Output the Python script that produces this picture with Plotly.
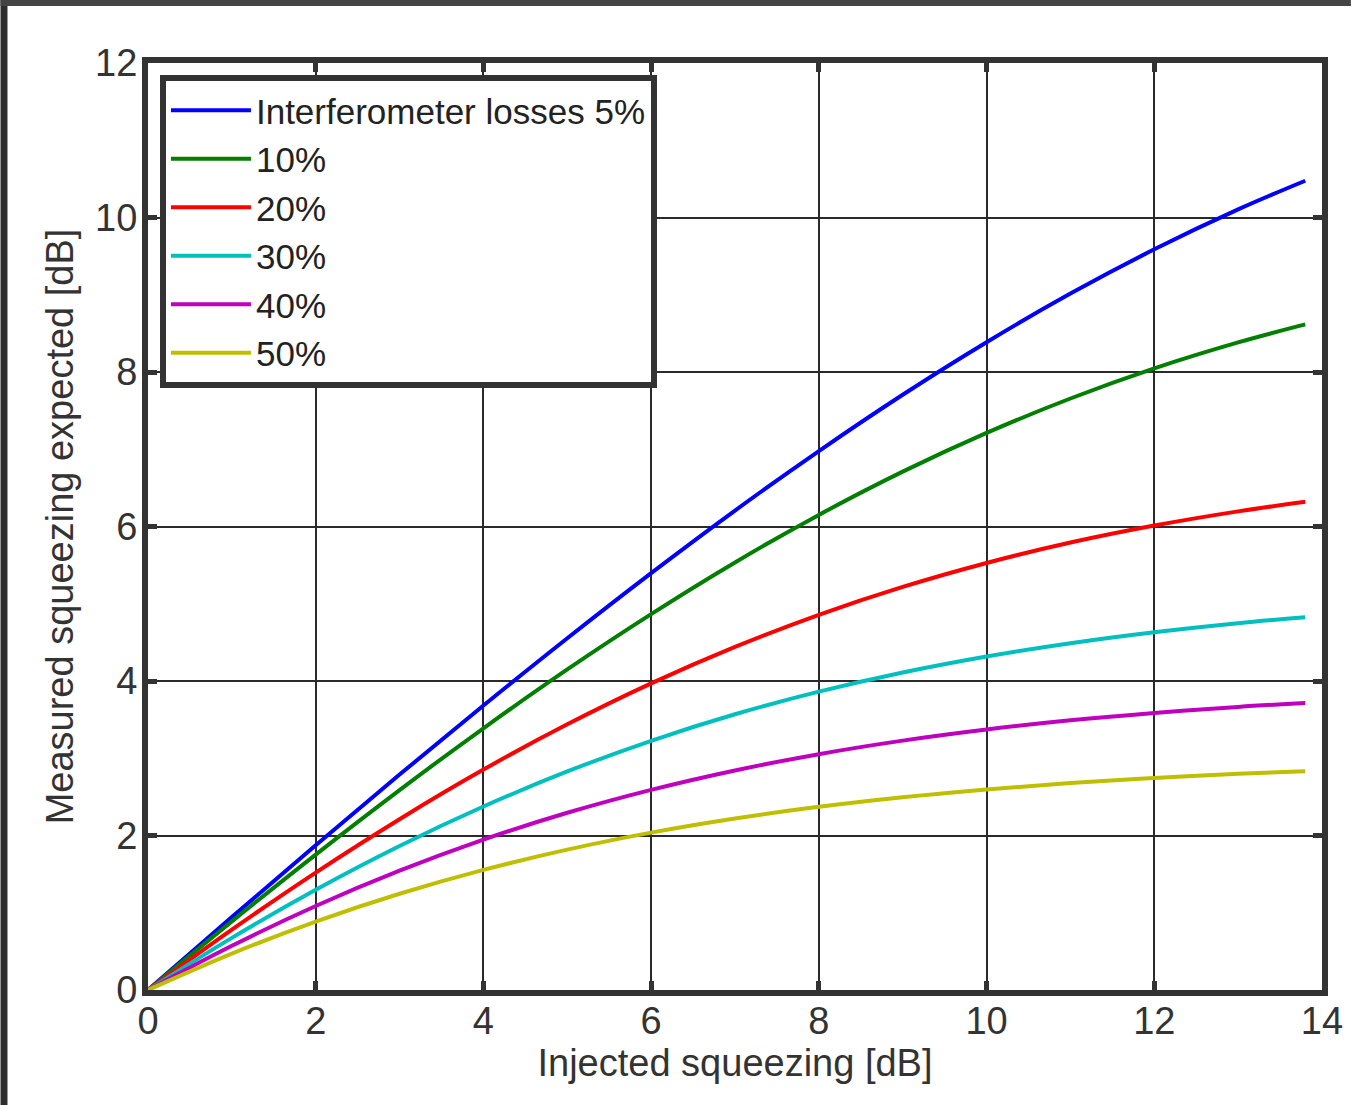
import plotly.graph_objects as go

injected = [0, 1, 2, 3, 4, 5, 6, 7, 8, 9, 10, 11, 12, 13, 13.8]

loss_5 = [0, 0.944, 1.875, 2.789, 3.683, 4.554, 5.397, 6.207, 6.977, 7.706, 8.386, 9.015, 9.588, 10.105, 10.476]
loss_10 = [0, 0.889, 1.753, 2.588, 3.388, 4.150, 4.866, 5.535, 6.150, 6.710, 7.212, 7.657, 8.047, 8.383, 8.616]
loss_20 = [0, 0.781, 1.520, 2.211, 2.853, 3.439, 3.969, 4.442, 4.857, 5.218, 5.528, 5.792, 6.012, 6.196, 6.320]
loss_30 = [0, 0.675, 1.298, 1.865, 2.375, 2.829, 3.226, 3.569, 3.862, 4.111, 4.318, 4.490, 4.632, 4.749, 4.826]
loss_40 = [0, 0.572, 1.087, 1.544, 1.946, 2.294, 2.591, 2.842, 3.053, 3.228, 3.372, 3.491, 3.587, 3.665, 3.716]
loss_50 = [0, 0.471, 0.886, 1.246, 1.555, 1.817, 2.037, 2.220, 2.371, 2.495, 2.596, 2.679, 2.745, 2.798, 2.833]

series_names = ["Interferometer losses 5%", "10%", "20%", "30%", "40%", "50%"]
series_values = [loss_5, loss_10, loss_20, loss_30, loss_40, loss_50]
series_colors = ["#0000FF", "#007F00", "#FF0000", "#00BFBF", "#BF00BF", "#BFBF00"]

x_ticks = [0, 2, 4, 6, 8, 10, 12, 14]
y_ticks = [0, 2, 4, 6, 8, 10, 12]

fig = go.Figure()
for name, vals, col in zip(series_names, series_values, series_colors):
    fig.add_trace(go.Scatter(x=injected, y=vals, name=name, mode="lines",
                             line=dict(color=col, width=4, shape="spline")))

W, H = 1355, 1105
L, R, T, B = 148, 29, 63, 115
pw, ph = W - L - R, H - T - B

def px(xp):
    return (xp - L) / pw

def py(yp):
    return (H - B - yp) / ph

FONT = "Liberation Sans, Arial"

axis_common = dict(
    showline=True, linewidth=6, linecolor="#333333", mirror="allticks",
    showgrid=True, gridcolor="#2a2a2a", gridwidth=2,
    ticks="inside", ticklen=9, tickwidth=5, tickcolor="#333333",
    zeroline=False,
    tickfont=dict(family=FONT, size=38, color="#333333"),
    title_font=dict(family=FONT, size=38, color="#333333"),
)

fig.update_layout(
    width=W, height=H,
    margin=dict(l=L, r=R, t=T, b=B),
    paper_bgcolor="white", plot_bgcolor="white",
    xaxis=dict(range=[0, 14], tickvals=x_ticks, title_text="Injected squeezing [dB]",
               title_standoff=2, ticklabelstandoff=-8, **axis_common),
    yaxis=dict(range=[0, 12], tickvals=y_ticks, title_text="Measured squeezing expected [dB]",
               title_standoff=12, ticklabelstandoff=-3, **axis_common),
    legend=dict(x=px(160), y=py(75), xanchor="left", yanchor="top",
                bgcolor="white", bordercolor="#333333", borderwidth=6,
                font=dict(family=FONT, size=35, color="#222222"),
                itemwidth=80, tracegroupgap=0,
                entrywidth=440, entrywidthmode="pixels"),
    showlegend=True,
    shapes=[
        dict(type="rect", xref="paper", yref="paper", x0=px(0), x1=px(7), y0=py(H), y1=py(0),
             fillcolor="#2e2e2e", line_width=0, layer="above"),
        dict(type="rect", xref="paper", yref="paper", x0=px(0), x1=px(W), y0=py(6), y1=py(0),
             fillcolor="#444444", line_width=0, layer="above"),
    ],
)

fig.write_html("out.html")
